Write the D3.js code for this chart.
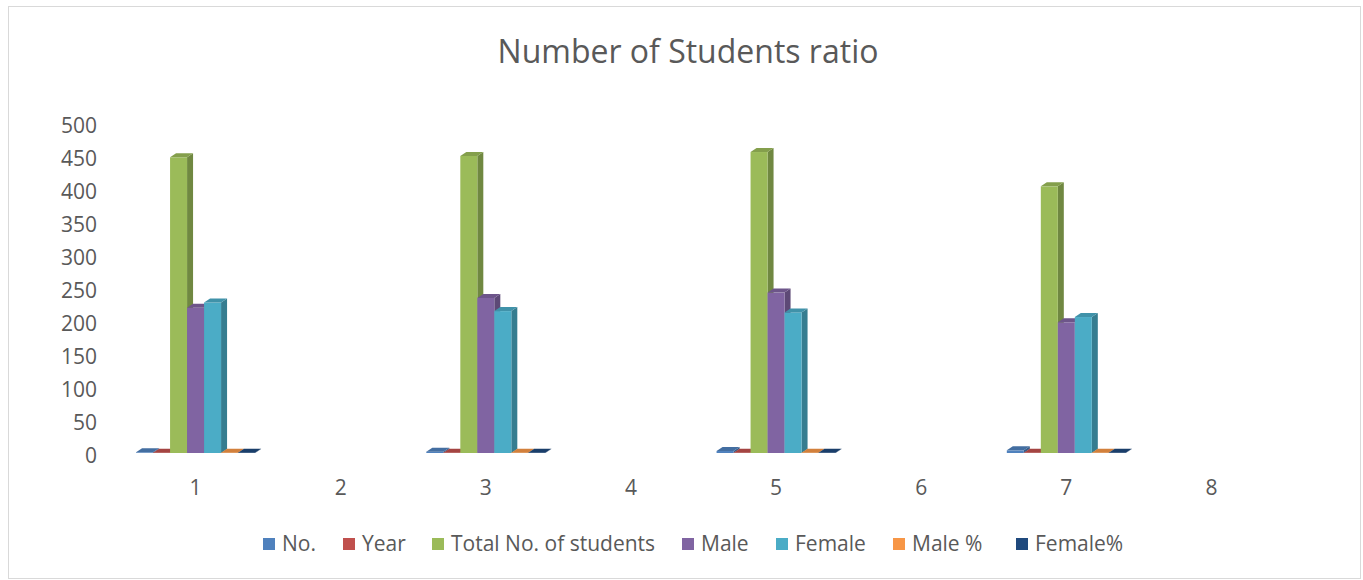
<!DOCTYPE html>
<html>
<head>
<meta charset="utf-8">
<script src="https://cdn.jsdelivr.net/npm/d3@7"></script>
<style>
  body { margin: 0; background: #fff; }
  text { font-family: "Open Sans", sans-serif; fill: #595959; }
</style>
</head>
<body>
<div id="chart"></div>
<script>
// data
var categories = ['1', '2', '3', '4', '5', '6', '7', '8'];
var seriesNames = ['No.', 'Year', 'Total No. of students', 'Male', 'Female', 'Male %', 'Female%'];
var colors = ['#4F81BD', '#C0504D', '#9BBB59', '#8064A2', '#4BACC6', '#F79646', '#1F497D'];
var noValues = [1, null, 2, null, 3, null, 4, null];
var yearValues = [0.5, null, 0.5, null, 0.5, null, 0.5, null];
var totalValues = [448, null, 450, null, 456, null, 404, null];
var maleValues = [220, null, 235, null, 243, null, 198, null];
var femaleValues = [228, null, 215, null, 213, null, 206, null];
var malePctValues = [0.49, null, 0.52, null, 0.53, null, 0.49, null];
var femalePctValues = [0.51, null, 0.48, null, 0.47, null, 0.51, null];
var yTicks = [0, 50, 100, 150, 200, 250, 300, 350, 400, 450, 500];

var allSeries = [noValues, yearValues, totalValues, maleValues, femaleValues, malePctValues, femalePctValues];

var chart_width = 1363;
var chart_height = 580;
var depthX = 6, depthY = 4;

var svg = d3.select('#chart')
  .append('svg')
  .attr('width', chart_width)
  .attr('height', chart_height);

// outer border
svg.append('rect')
  .attr('x', 8.5).attr('y', 6.5)
  .attr('width', 1352).attr('height', 572)
  .attr('fill', 'white')
  .attr('stroke', '#d9d9d9');

svg.append('text')
  .attr('x', 688).attr('y', 63)
  .attr('text-anchor', 'middle')
  .style('font-size', '32px')
  .text('Number of Students ratio');

var x = d3.scaleBand()
  .domain(categories)
  .range([123, 1284])
  .paddingInner(0.18)
  .paddingOuter(0.09);

var x1 = d3.scaleBand()
  .domain(seriesNames)
  .range([0, x.bandwidth()]);

var y = d3.scaleLinear()
  .domain([0, 500])
  .range([453, 123]);

// y tick labels
svg.selectAll('text.ytick')
  .data(yTicks)
  .enter()
  .append('text')
  .attr('class', 'ytick')
  .attr('x', 97)
  .attr('y', d => y(d) + 3)
  .attr('dy', '0.35em')
  .attr('text-anchor', 'end')
  .style('font-size', '21px')
  .text(d => d);

// x labels
svg.selectAll('text.xtick')
  .data(categories)
  .enter()
  .append('text')
  .attr('class', 'xtick')
  .attr('x', d => x(d) + x.bandwidth() / 2)
  .attr('y', 488)
  .attr('dy', '0.35em')
  .attr('text-anchor', 'middle')
  .style('font-size', '21px')
  .text(d => d);

// flatten bars
var bars = [];
categories.forEach(function(c, ci) {
  allSeries.forEach(function(vals, si) {
    if (vals[ci] != null) {
      bars.push({ cat: c, series: seriesNames[si], color: colors[si], value: vals[ci] });
    }
  });
});

var g = svg.append('g');

var bar = g.selectAll('g.bar')
  .data(bars)
  .enter()
  .append('g')
  .attr('class', 'bar');

function x0(d) { return x(d.cat) + x1(d.series); }

// side face
bar.append('path')
  .attr('d', function(d) {
    var l = x0(d) + x1.bandwidth(), t = y(d.value), b = y(0);
    return 'M' + l + ',' + b + 'L' + l + ',' + t + 'L' + (l + depthX) + ',' + (t - depthY) +
      'L' + (l + depthX) + ',' + (b - depthY) + 'Z';
  })
  .attr('fill', d => d3.color(d.color).darker(0.9));

// front face
bar.append('rect')
  .attr('x', d => x0(d))
  .attr('y', d => y(d.value))
  .attr('width', x1.bandwidth())
  .attr('height', d => y(0) - y(d.value))
  .attr('fill', d => d.color);

// top face
bar.append('path')
  .attr('d', function(d) {
    var l = x0(d), r = l + x1.bandwidth(), t = y(d.value);
    return 'M' + l + ',' + t + 'L' + (l + depthX) + ',' + (t - depthY) + 'L' + (r + depthX) + ',' + (t - depthY) +
      'L' + r + ',' + t + 'Z';
  })
  .attr('fill', d => d3.color(d.color).darker(0.45));

// legend
var legendX = [263, 343, 432, 682, 776, 893, 1016];
var legend = svg.selectAll('g.legend')
  .data(seriesNames)
  .enter()
  .append('g')
  .attr('class', 'legend')
  .attr('transform', (d, i) => 'translate(' + legendX[i] + ',544)');

legend.append('rect')
  .attr('x', 0).attr('y', -6)
  .attr('width', 12).attr('height', 12)
  .attr('fill', (d, i) => colors[i]);

legend.append('text')
  .attr('x', 19)
  .attr('dy', '0.35em')
  .style('font-size', '21px')
  .text(d => d);
</script>
</body>
</html>
